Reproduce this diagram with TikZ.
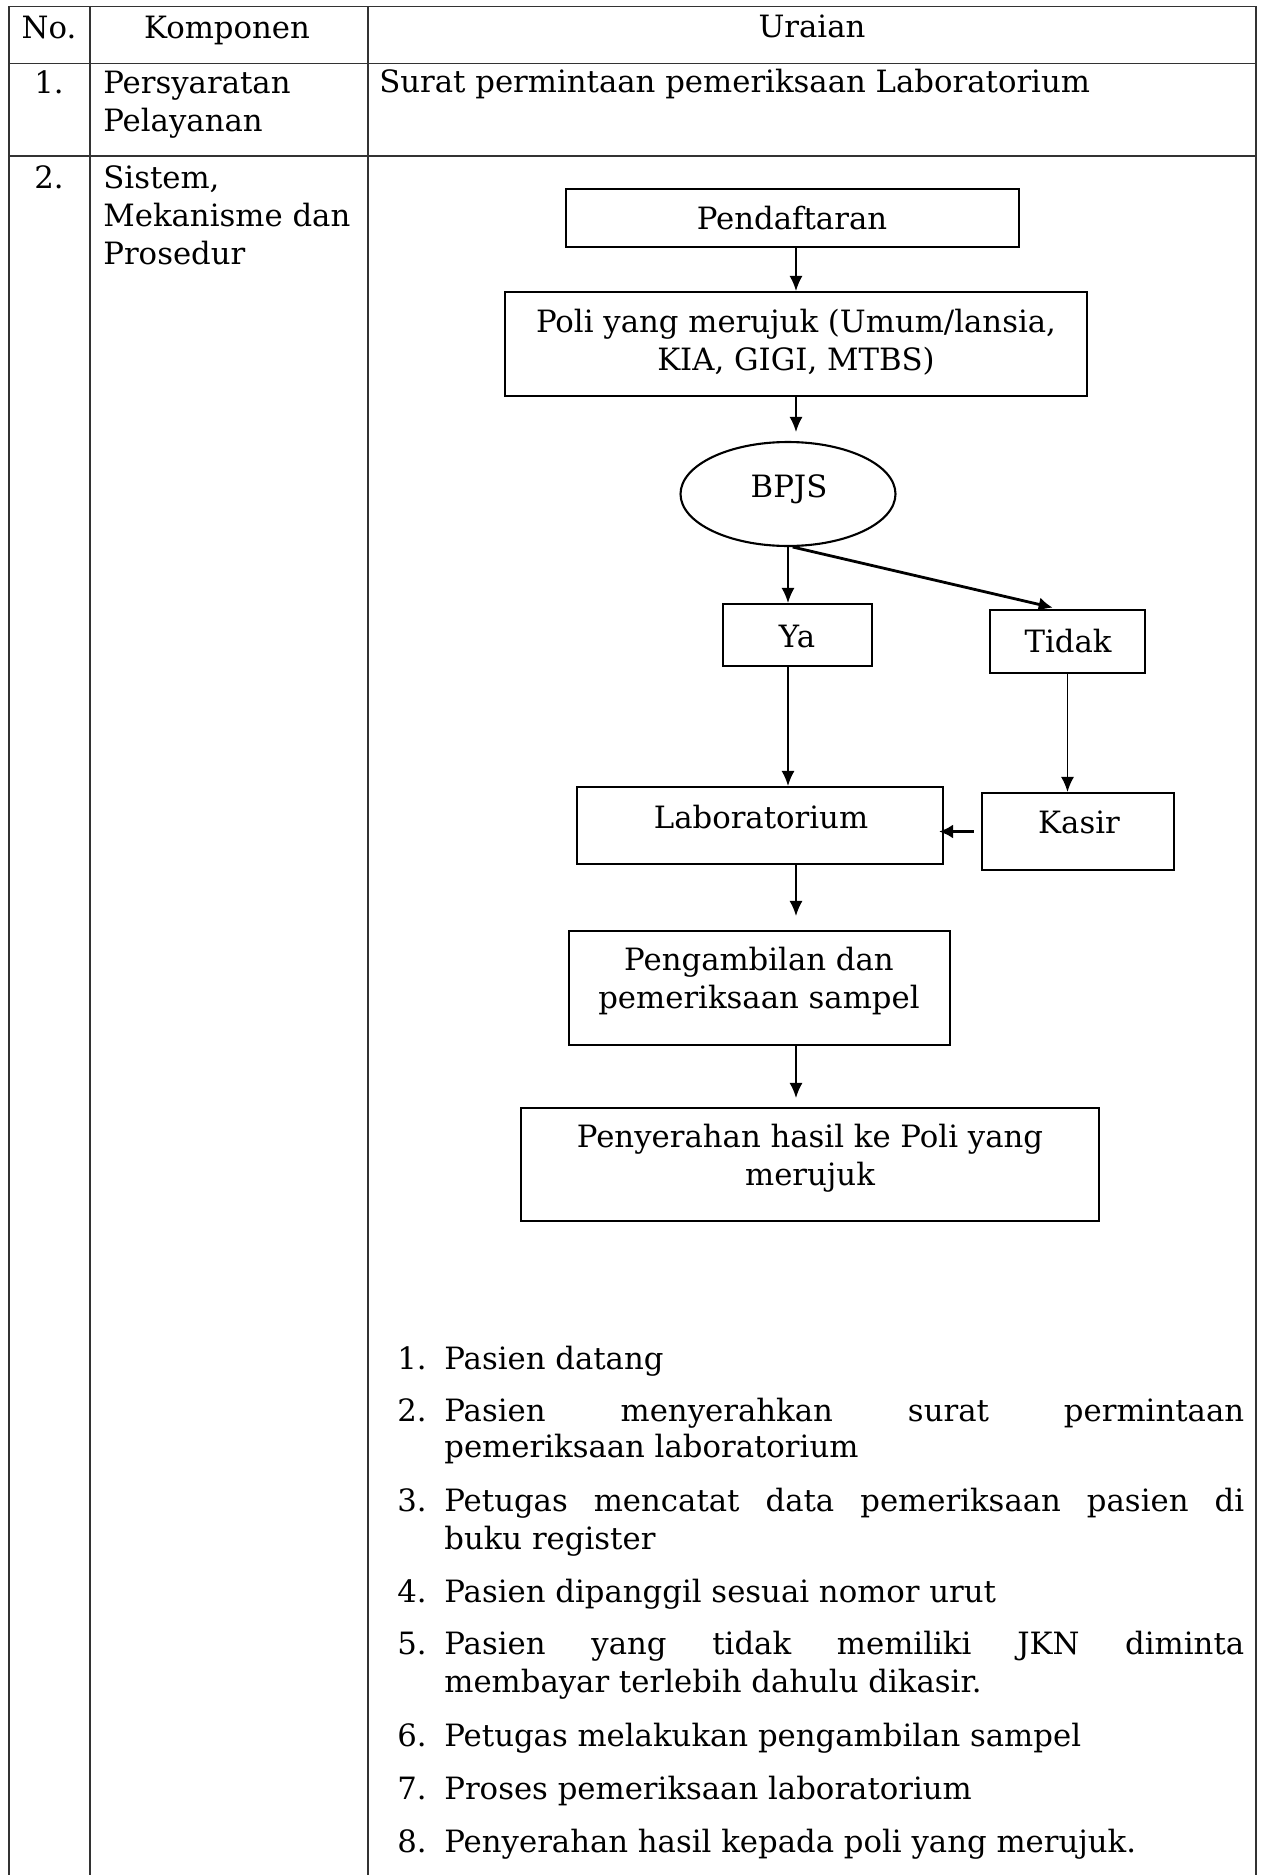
\documentclass[tikz,border=0pt]{standalone}
\usepackage{fontspec}
\setmainfont{DejaVu Serif}
\usetikzlibrary{arrows.meta,calc,shapes.geometric}
\newcommand\myfs{\fontsize{17.5pt}{21pt}\selectfont}
\begin{document}
\begin{tikzpicture}[x=0.02cm, y=-0.02cm,
  tline/.style={line width=0.9pt, draw=black!80},
  box/.style={draw, line width=1.2pt, inner sep=0pt},
  txt/.style={inner sep=0pt, anchor=base, font=\myfs},
  ltxt/.style={txt, anchor=base west},
  arr/.style={line width=1pt, -{Latex[length=0.3cm,width=0.26cm]}},
  tarr/.style={line width=1.6pt, -{Latex[length=0.28cm,width=0.28cm]}},
]
\useasboundingbox (0,0) rectangle (1263,1875);
\fill[white] (0,0) rectangle (1263,1875);
% table
\draw[tline] (9,1875) -- (9,6.5) -- (1256,6.5) -- (1256,1875);
\draw[tline] (90,6.5) -- (90,1875);
\draw[tline] (368,6.5) -- (368,1875);
\draw[tline] (9,63.5) -- (1256,63.5);
\draw[tline] (9,156) -- (1256,156);
% header and rows
\node[txt] (hno) at (49,39) {No.};
\node[txt] (hkomp) at (227,39) {Komponen};
\node[txt] (hur) at (812,38) {Uraian};
\node[txt] (n1) at (49,94) {1.};
\node[ltxt] (k1a) at (103,94) {Persyaratan};
\node[ltxt] (k1b) at (103,132) {Pelayanan};
\node[ltxt] (u1) at (379,93) {Surat permintaan pemeriksaan Laboratorium};
\node[txt] (n2) at (49,189) {2.};
\node[ltxt] (k2a) at (103,189) {Sistem,};
\node[ltxt] (k2b) at (103,227) {Mekanisme dan};
\node[ltxt] (k2c) at (103,265) {Prosedur};
% flowchart boxes
\node[box, minimum width=9.06cm, minimum height=1.16cm] (pend) at (792.5,218) {};
\node[box, minimum width=11.64cm, minimum height=2.08cm] (poli) at (796,344) {};
\node[box, ellipse, minimum width=4.3cm, minimum height=2.08cm] (bpjs) at (788,494) {};
\node[box, minimum width=2.98cm, minimum height=1.24cm] (ya) at (797.5,635) {};
\node[box, minimum width=3.1cm, minimum height=1.26cm] (tidak) at (1067.5,641.5) {};
\node[box, minimum width=7.32cm, minimum height=1.54cm] (lab) at (760,825.5) {};
\node[box, minimum width=3.84cm, minimum height=1.54cm] (kasir) at (1078,831.5) {};
\node[box, minimum width=7.62cm, minimum height=2.28cm] (peng) at (759.5,988) {};
\node[box, minimum width=11.56cm, minimum height=2.26cm] (peny) at (810,1164.5) {};
% box texts
\node[txt] (tpend) at (792,230) {Pendaftaran};
\node[txt] (tpoli1) at (796,333) {Poli yang merujuk (Umum/lansia,};
\node[txt] (tpoli2) at (796,370) {KIA, GIGI, MTBS)};
\node[txt] (tbpjs) at (789,497) {BPJS};
\node[txt] (tya) at (797,647) {Ya};
\node[txt] (ttidak) at (1068,652) {Tidak};
\node[txt] (tlab) at (761,828) {Laboratorium};
\node[txt] (tkasir) at (1079,833) {Kasir};
\node[txt] (tpeng1) at (759,970) {Pengambilan dan};
\node[txt] (tpeng2) at (759,1008) {pemeriksaan sampel};
\node[txt] (tpeny1) at (810,1147) {Penyerahan hasil ke Poli yang};
\node[txt] (tpeny2) at (810,1185) {merujuk};
% connectors
\draw[arr] (pend.south -| poli.north) -- (poli.north);
\draw[arr, shorten >=0.18cm] (poli.south) -- (poli.south |- bpjs.north);
\draw[arr] (bpjs.south) -- (bpjs.south |- ya.north);
\draw[tarr, shorten >=0.12cm] (bpjs.-85) -- ($(tidak.north)+(-9,0)$);
\draw[arr] (ya.south -| bpjs.south) -- (bpjs.south |- lab.north);
\draw[arr] (tidak.south) -- (tidak.south |- kasir.north);
\draw[tarr, shorten <=0.14cm, shorten >=-0.1cm] (kasir.west) -- (kasir.west -| lab.east);
\draw[arr, shorten >=0.28cm] (lab.south -| poli.south) -- (poli.south |- peng.north);
\draw[arr, shorten >=0.18cm] (peng.south -| poli.south) -- (poli.south |- peny.north);
% list
\node[ltxt] (i1n) at (397,1369) {1.};
\node[ltxt] (i1) at (444,1369) {Pasien datang};
\node[ltxt] (i2n) at (397,1421) {2.};
\node[ltxt] (i2a) at (444,1421) {\makebox[16cm][s]{Pasien menyerahkan surat permintaan}};
\node[ltxt] (i2b) at (444,1457) {pemeriksaan laboratorium};
\node[ltxt] (i3n) at (397,1511) {3.};
\node[ltxt] (i3a) at (444,1511) {\makebox[16cm][s]{Petugas mencatat data pemeriksaan pasien di}};
\node[ltxt] (i3b) at (444,1549) {buku register};
\node[ltxt] (i4n) at (397,1602) {4.};
\node[ltxt] (i4) at (444,1602) {Pasien dipanggil sesuai nomor urut};
\node[ltxt] (i5n) at (397,1654) {5.};
\node[ltxt] (i5a) at (444,1654) {\makebox[16cm][s]{Pasien yang tidak memiliki JKN diminta}};
\node[ltxt] (i5b) at (444,1692) {membayar terlebih dahulu dikasir.};
\node[ltxt] (i6n) at (397,1746) {6.};
\node[ltxt] (i6) at (444,1746) {Petugas melakukan pengambilan sampel};
\node[ltxt] (i7n) at (397,1799) {7.};
\node[ltxt] (i7) at (444,1799) {Proses pemeriksaan laboratorium};
\node[ltxt] (i8n) at (397,1852) {8.};
\node[ltxt] (i8) at (444,1852) {Penyerahan hasil kepada poli yang merujuk.};
\end{tikzpicture}
\end{document}
